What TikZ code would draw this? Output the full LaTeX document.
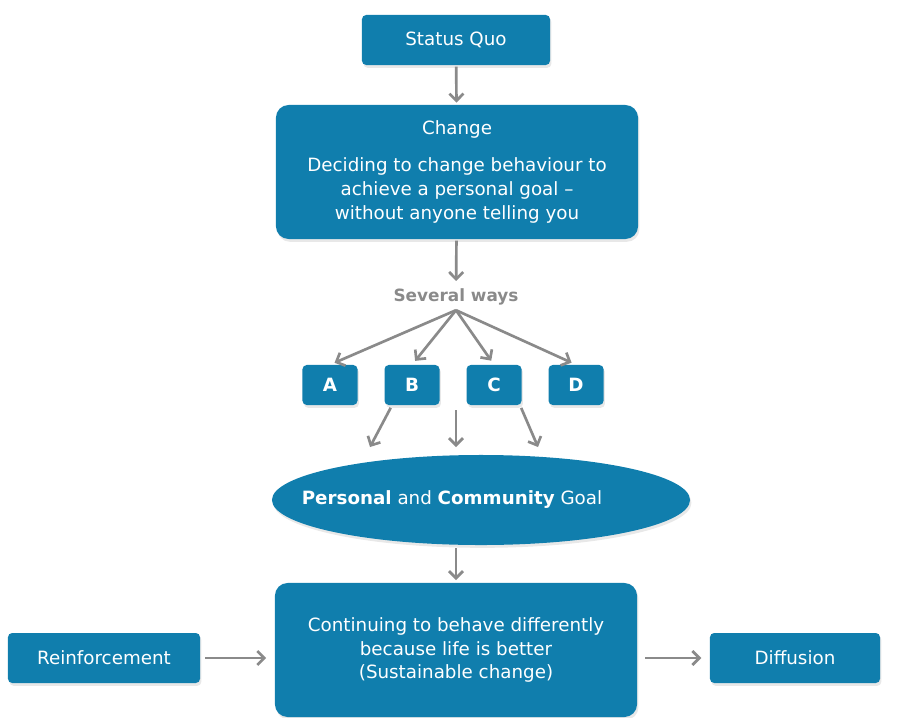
\documentclass[tikz,border=0pt]{standalone}
\usepackage{fontspec}
\setmainfont{DejaVu Sans}
\usepackage{tikz}
\usetikzlibrary{positioning,shapes.geometric,shadows,arrows.meta}
\definecolor{boxblue}{RGB}{16,126,173}
\definecolor{arrowgray}{RGB}{138,138,138}

\begin{document}
\begin{tikzpicture}[x=0.025cm, y=-0.025cm, node distance=2.05cm,
	font=\fontsize{13}{17}\selectfont,
	main node/.style={rectangle,rounded corners=3pt,fill=boxblue,text=white,align=center,
		drop shadow={opacity=0.18,shadow xshift=1pt,shadow yshift=-2pt}},
	big node/.style={main node,rounded corners=9pt,minimum width=9.05cm,minimum height=3.35cm},
	letter node/.style={main node,font=\fontsize{13}{17}\selectfont\bfseries,
		minimum width=1.375cm,minimum height=1cm},
	flow/.style={-{Straight Barb[length=5pt,width=10pt]},draw=arrowgray,line width=1.9pt}]
	
	\useasboundingbox (0,0) rectangle (897,718);
	
	\node[main node,minimum width=4.7cm,minimum height=1.25cm] (1) at (456,40) {Status Quo};
	\node[big node] (2) at (457,172)
		{Change\\[9pt] Deciding to change behaviour to\\ achieve a personal goal \textendash\\ without anyone telling you};
	\node[text=arrowgray,font=\fontsize{12}{14}\selectfont\bfseries] (3) at (456,297) {Several ways};
	
	\node[letter node] (4) at (330,385) {A};
	\node[letter node] (5) [right of=4] {B};
	\node[letter node] (6) [right of=5] {C};
	\node[letter node] (7) [right of=6] {D};
	
	\node[ellipse,fill=boxblue,inner sep=0pt,minimum width=10.45cm,minimum height=2.25cm,
		drop shadow={opacity=0.18,shadow xshift=1pt,shadow yshift=-2pt}] (8) at (481,500) {};
	\node[text=white] (9) at (452,500) {\textbf{Personal} and \textbf{Community} Goal};
	
	\node[big node] (10) at (456,650)
		{Continuing to behave differently\\ because life is better\\ (Sustainable change)};
	\node[main node,minimum width=4.8cm,minimum height=1.25cm] (11) at (104,658) {Reinforcement};
	\node[main node,minimum width=4.25cm,minimum height=1.25cm] (12) at (795,658) {Diffusion};
	
	% free ends of the short arrows around the goal
	\coordinate (b1) at (370,447);
	\coordinate (b2) at (456,410);
	\coordinate (b3) at (456,447);
	\coordinate (b4) at (538,447);
	\coordinate (g1) at (456,548);
	\coordinate (g2) at (456,580);
	
	\path[every edge/.style={flow}]
	(1) edge[shorten <=1pt,shorten >=1.5pt] (2)
	(2) edge[shorten <=1pt,shorten >=2pt] (3)
	(3.south) edge[shorten >=3.5pt] (4.north)
	(3.south) edge[shorten >=3.5pt] (5.north)
	(3.south) edge[shorten >=3.5pt] (6.north)
	(3.south) edge[shorten >=3.5pt] (7.north)
	([xshift=-0.5cm]5.south) edge[shorten <=2pt] (b1)
	(b2) edge (b3)
	([xshift=0.65cm]6.south) edge[shorten <=2pt] (b4)
	(g1) edge (g2)
	(11.east) edge[shorten <=3.5pt,shorten >=6pt] (10.west |- 11.east)
	(10.east |- 12.west) edge[shorten <=5.5pt,shorten >=6pt] (12.west);
\end{tikzpicture}
\end{document}
